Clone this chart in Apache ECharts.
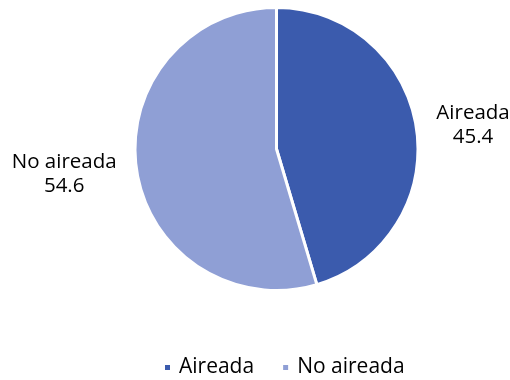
<!DOCTYPE html>
<html><head><meta charset="utf-8">
<script src="https://cdn.jsdelivr.net/npm/echarts@6/dist/echarts.min.js"></script>
<style>html,body{margin:0;padding:0;background:#fff}#c{width:510px;height:380px}</style>
</head><body><div id="c"></div>
<script>
var categories = ['Aireada', 'No aireada'];
var values = [45.4, 54.6];
var colors = ['#3b5bad', '#8f9fd5'];

var chart = echarts.init(document.getElementById('c'), null, {renderer: 'canvas'});
var FONT = 'Open Sans';
chart.setOption({
  animation: false,
  color: colors,
  legend: {
    top: 352,
    left: 158,
    icon: 'rect',
    itemWidth: 7,
    itemHeight: 7,
    itemGap: 27,
    textStyle: {fontFamily: FONT, fontSize: 21, color: '#000', padding: [0, 0, 0, 3]},
    data: categories
  },
  series: [{
    type: 'pie',
    center: [276.5, 149],
    radius: 141.5,
    startAngle: 90,
    clockwise: true,
    itemStyle: {borderColor: '#fff', borderWidth: 3},
    label: {
      show: true,
      position: 'outside',
      formatter: '{b}\n{c}',
      fontFamily: FONT,
      fontSize: 20.5,
      lineHeight: 24,
      color: '#000',
      overflow: 'none',
      edgeDistance: 0
    },
    labelLine: {show: false, length: 15, length2: 0},
    labelLayout: function (p) {
      var r = p.labelRect;
      return {x: r.x + r.width / 2, y: r.y + r.height / 2 + (p.dataIndex === 1 ? 3 : -1), align: 'center', verticalAlign: 'middle'};
    },
    data: categories.map(function (c, i) { return {name: c, value: values[i]}; })
  }]
});
</script></body></html>
